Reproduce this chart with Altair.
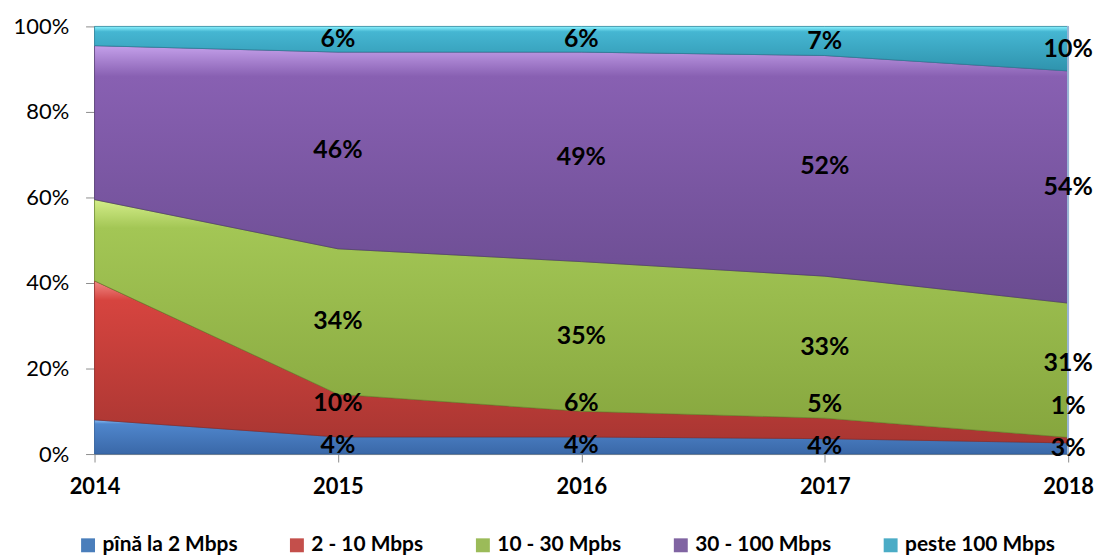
import altair as alt
import pandas as pd

years = [2014, 2015, 2016, 2017, 2018]
series = ["pînă la 2 Mbps", "2 - 10 Mbps", "10 - 30 Mpbs", "30 - 100 Mbps", "peste 100 Mbps"]
v_upto2 = [8.0, 4.0, 4.0, 3.6, 2.6]
v_2_10 = [32.5, 10.0, 6.0, 4.8, 1.3]
v_10_30 = [19.0, 34.0, 35.0, 33.2, 31.4]
v_30_100 = [36.0, 46.0, 49.0, 51.6, 54.3]
v_over100 = [4.5, 6.0, 6.0, 6.8, 10.4]
labeled_years = [2015, 2016, 2017, 2018]

colors = ["#4a7ebb", "#c44f4b", "#9bbb59", "#8064a2", "#4bacc6"]
grad_stops = [
    ("#8cc0f5", "#4f86cc", "#3a68a8"),
    ("#f08a86", "#d6443f", "#a93632"),
    ("#d4ee8a", "#a3c655", "#86a63e"),
    ("#c4a0ea", "#8860b2", "#6a4c90"),
    ("#8cf4ff", "#45b6d2", "#2f93ad"),
]
edge_colors = ["#2f5f9a", "#8a2a27", "#6a8a30", "#4f3a70", "#2a7f96"]

all_vals = [v_upto2, v_2_10, v_10_30, v_30_100, v_over100]
rows = []
for i, (name, vals) in enumerate(zip(series, all_vals)):
    for yr, v in zip(years, vals):
        rows.append({"year": yr, "series": name, "idx": i, "value": v,
                     "label": f"{round(v)}%", "show": yr in labeled_years})
df = pd.DataFrame(rows)

# label placement: segment midpoint, pushed up to avoid overlap with the label below
df["lpos"] = 0.0
for yr in years:
    sub = df[df.year == yr].sort_values("idx")
    tot = sub.value.sum()
    cum = 0.0
    prev = -1.0
    for ix, r in sub.iterrows():
        mid = (cum + r.value / 2) / tot
        pos = max(mid, prev + 0.10)
        df.loc[ix, "lpos"] = pos
        prev = pos
        cum += r.value

FONT = "Lato"

base = alt.Chart(df).transform_stack(
    stack="value", groupby=["year"], as_=["y0", "y1"],
    sort=[alt.SortField("idx", order="ascending")], offset="normalize")

xenc = alt.X("year:Q", scale=alt.Scale(domain=[2014, 2018], nice=False, zero=False),
             axis=alt.Axis(values=years, format="d", title=None, labelFontWeight="bold",
                           labelFontSize=22, labelFont=FONT, labelColor="black",
                           labelFlush=False, labelPadding=15, tickSize=8, tickColor="#8c8c8c",
                           domainColor="#8c8c8c", grid=False))
yenc = alt.Y("y1:Q", scale=alt.Scale(domain=[0, 1], nice=False),
             axis=alt.Axis(values=[0, 0.2, 0.4, 0.6, 0.8, 1.0], format=".0%", title=None,
                           labelFontSize=22, labelFont=FONT, labelColor="black",
                           labelFlush=False, labelPadding=17, tickSize=9, tickColor="#8c8c8c",
                           domainColor="#8c8c8c", grid=False))

legend_layer = base.mark_area().encode(
    x=xenc, y=yenc, y2="y0:Q",
    color=alt.Color("series:N", scale=alt.Scale(domain=series, range=colors),
                    sort=series,
                    legend=alt.Legend(title=None, orient="none", direction="horizontal",
                                      legendX=-17, legendY=511,
                                      labelFont=FONT, labelFontSize=21, labelFontWeight="bold",
                                      labelColor="black", symbolType="square", symbolSize=196,
                                      symbolStrokeWidth=0, symbolOpacity=1,
                                      columnPadding=49, labelOffset=4)))

layers = [legend_layer]
for i, name in enumerate(series):
    c0, c1, c2 = grad_stops[i]
    grad = alt.Gradient(gradient="linear", x1=0, y1=0, x2=0, y2=1,
                        stops=[alt.GradientStop(offset=0, color=c0),
                               alt.GradientStop(offset=0.12, color=c1),
                               alt.GradientStop(offset=1, color=c2)])
    layers.append(
        base.transform_filter(alt.datum.series == name)
        .mark_area(color=grad, stroke=edge_colors[i], strokeWidth=1, strokeOpacity=0.7)
        .encode(x="year:Q", y="y1:Q", y2="y0:Q")
    )

border = alt.Chart(df).mark_rule(color="#9ab6d6", strokeWidth=1.5).encode(
    x=alt.datum(2018), y=alt.datum(0), y2=alt.datum(1))
layers.append(border)

labels = alt.Chart(df).transform_filter(alt.datum.show).mark_text(
    font=FONT, fontSize=25, fontWeight="bold", color="black", baseline="middle", align="center"
).encode(x="year:Q", y="lpos:Q", text="label:N")
layers.append(labels)

chart = alt.layer(*layers).properties(
    width=979, height=430,
    autosize=alt.AutoSizeParams(type="none"),
    padding={"left": 87, "top": 17, "right": 30, "bottom": 101},
).configure_view(stroke=None).configure(background="white")

chart.save("out.html", embed_options={"renderer": "svg", "actions": False})
